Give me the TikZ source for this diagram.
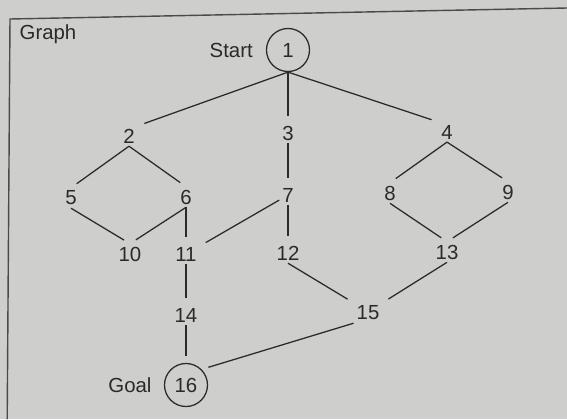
\documentclass[tikz,border=0pt]{standalone}
\usepackage{fontspec}
\setmainfont{Liberation Sans}
\usetikzlibrary{positioning}

\definecolor{paper}{RGB}{206,206,204}
\definecolor{ink}{RGB}{42,42,42}

\begin{document}
\begin{tikzpicture}[node distance=1.5cm, on grid,
    vertex/.style={inner sep=2pt, text=ink, font=\fontsize{14.5}{17}\selectfont},
    terminal/.style={circle, draw=ink, line width=0.9pt, minimum size=1.075cm, inner sep=0pt, text=ink, font=\fontsize{14.5}{17}\selectfont},
    tag/.style={text=ink, font=\fontsize{14.5}{17}\selectfont},
    line/.style={draw=ink, line width=0.9pt, shorten >=5pt}]

    \path [use as bounding box, fill=paper] (0,0) rectangle (14.175,-10.475);
    \draw [draw=ink!85, line width=1pt] (14.175,-0.2) -- (0.25,-0.475) -- (0.18,-10.475);

    \node [tag] (title) at (1.2,-0.85) {Graph};

    \node [terminal] (v1) at (7.2,-1.25) {1};
    \node [tag, left=1.42 of v1] (start) {Start};

    \node [vertex, below left=2.15 and 3.975 of v1] (v2) {2};
    \node [vertex, below=2.075 of v1] (v3) {3};
    \node [vertex, below right=2.05 and 3.975 of v1] (v4) {4};

    \node [vertex, below left=1.55 and 1.45 of v2] (v5) {5};
    \node [vertex, below right=1.525 and 1.425 of v2] (v6) {6};
    \node [vertex, below=1.55 of v3] (v7) {7};
    \node [vertex, below left=1.525 and 1.425 of v4] (v8) {8};
    \node [vertex, below right=1.5 and 1.525 of v4] (v9) {9};

    \node [vertex, below right=1.4 and 1.475 of v5] (v10) {10};
    \node [vertex, below=1.425 of v6] (v11) {11};
    \node [vertex, below=1.45 of v7] (v12) {12};
    \node [vertex, below right=1.475 and 1.425 of v8] (v13) {13};

    \node [vertex, below=1.525 of v11] (v14) {14};
    \node [vertex, above right=0.05 and 4.55 of v14] (v15) {15};
    \node [terminal, below=1.75 of v14] (v16) {16};
    \node [tag, left=1.4 of v16] (goal) {Goal};

    \path [line] (v1.south) -- (v2.north east);
    \path [line] (v1.south) -- (v3.north);
    \path [line] (v1.south) -- (v4.north west);

    \path [line] (v2.south) -- (v5.north);
    \path [line] (v2.south) -- (v6.north);
    \path [line] (v5.south) -- (v10.north);
    \path [line] (v6.south) -- (v10.north);
    \path [line] (v6.south) -- (v11.north);

    \path [line] (v3.south) -- (v7.north);
    \path [line] (v7) -- (v11);
    \path [line] (v7.south) -- (v12.north);

    \path [line] (v4.south) -- (v8.north);
    \path [line] (v4.south) -- (v9.north);
    \path [line] (v8.south) -- (v13.north);
    \path [line] (v9.south) -- (v13.north);

    \path [line] (v11.south) -- (v14.north);
    \path [line] (v14.south) -- (v16.north);
    \path [line] (v12.south) -- (v15.north west);
    \path [line] (v13.south) -- (v15.north east);
    \path [line] (v15.south west) -- (v16.north east);
\end{tikzpicture}
\end{document}
